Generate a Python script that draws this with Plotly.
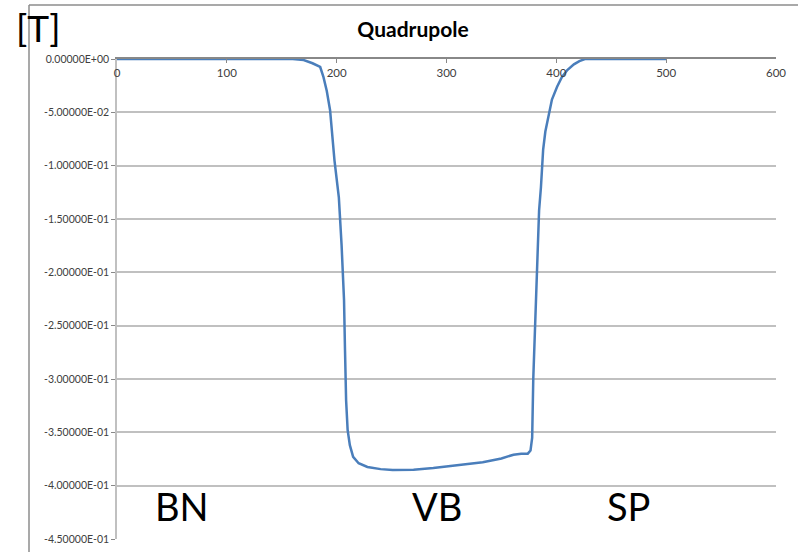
import plotly.graph_objects as go

# Data (position vs quadrupole field [T])
pos = [0, 100, 160, 170, 178, 185, 188, 191, 194, 198, 202, 204.5, 206.7, 207.6, 208.6,
       210, 212, 215, 220, 228, 240, 251, 270, 288, 310, 333, 350, 361, 368, 374,
       376.5, 378, 379, 380.7, 382.5, 384.3, 386, 388, 390, 392.5, 396, 400.7, 405,
       410, 416, 421, 426, 450, 500]
field = [0, 0, 0, -0.001, -0.004, -0.0075, -0.017, -0.03, -0.048, -0.095, -0.13, -0.175,
         -0.226, -0.273, -0.32, -0.348, -0.362, -0.373, -0.379, -0.3825, -0.3845, -0.3853,
         -0.3850, -0.3834, -0.381, -0.378, -0.3745, -0.371, -0.370, -0.370, -0.367, -0.355,
         -0.30, -0.245, -0.188, -0.142, -0.12, -0.085, -0.068, -0.054, -0.038, -0.026,
         -0.017, -0.0103, -0.005, -0.002, 0, 0, 0]

y_ticks = [0, -0.05, -0.10, -0.15, -0.20, -0.25, -0.30, -0.35, -0.40, -0.45]
y_tick_labels = ["0.00000E+00", "-5.00000E-02", "-1.00000E-01", "-1.50000E-01",
                 "-2.00000E-01", "-2.50000E-01", "-3.00000E-01", "-3.50000E-01",
                 "-4.00000E-01", "-4.50000E-01"]
x_ticks = [0, 100, 200, 300, 400, 500, 600]

region_labels = ["BN", "VB", "SP"]
region_x = [59, 291, 466]
region_y = [-0.419, -0.419, -0.419]

L, R, T, B = 117, 22, 59, 13
PW, PH = 798 - L - R, 552 - T - B


def px(x):
    return (x - L) / PW


def py(y):
    return (552 - B - y) / PH


fig = go.Figure()
fig.add_trace(go.Scatter(x=pos, y=field, mode="lines",
                         line=dict(color="#4a7ebb", width=2.5), showlegend=False))

for t, xx, yy in zip(region_labels, region_x, region_y):
    fig.add_annotation(x=xx, y=yy, text=t, showarrow=False,
                       font=dict(family="Lato", size=38, color="black"))

fig.add_annotation(xref="paper", yref="paper", x=px(38), y=py(27),
                   xanchor="center", yanchor="middle",
                   text="[T]", showarrow=False,
                   font=dict(family="Lato", size=37, color="black"))

# chart outer border (left and top)
fig.add_shape(type="line", xref="paper", yref="paper",
              x0=px(29), x1=px(29), y0=py(5), y1=py(560),
              line=dict(color="#8c8c8c", width=1.5))
fig.add_shape(type="line", xref="paper", yref="paper",
              x0=px(29), x1=px(810), y0=py(5), y1=py(5),
              line=dict(color="#8c8c8c", width=1.5))

fig.update_layout(
    width=798, height=552,
    margin=dict(l=L, r=R, t=T, b=B, autoexpand=False),
    paper_bgcolor="white", plot_bgcolor="white",
    title=dict(text="<b>Quadrupole</b>", x=413 / 798, xanchor="center",
               y=1 - 30 / 552, yanchor="middle",
               font=dict(family="Lato", size=21, color="black")),
    font=dict(family="Lato"),
)
fig.update_xaxes(range=[0, 600], side="top", tickvals=x_ticks,
                 ticklabelposition="inside", ticklabeloverflow="allow",
                 ticklabelstandoff=6,
                 ticks="inside", ticklen=4, automargin=False,
                 tickcolor="#888888", showgrid=False, zeroline=False,
                 showline=True, linecolor="#888888", linewidth=1.5,
                 tickfont=dict(family="Lato", size=11.5, color="#404040"))
fig.update_yaxes(range=[-0.45, 0], tickvals=y_ticks, ticktext=y_tick_labels,
                 ticks="outside", ticklen=4, tickcolor="#888888",
                 ticklabeloverflow="allow", automargin=False,
                 showgrid=True, gridcolor="#c0c0c0", gridwidth=1.5,
                 zeroline=False, showline=True, linecolor="#c0c0c0", linewidth=1.5,
                 tickfont=dict(family="Lato", size=10.5, color="#404040"))

fig.write_html("out.html", config={"displayModeBar": False},
               post_script="document.body.style.margin='0';document.body.style.padding='0';")
